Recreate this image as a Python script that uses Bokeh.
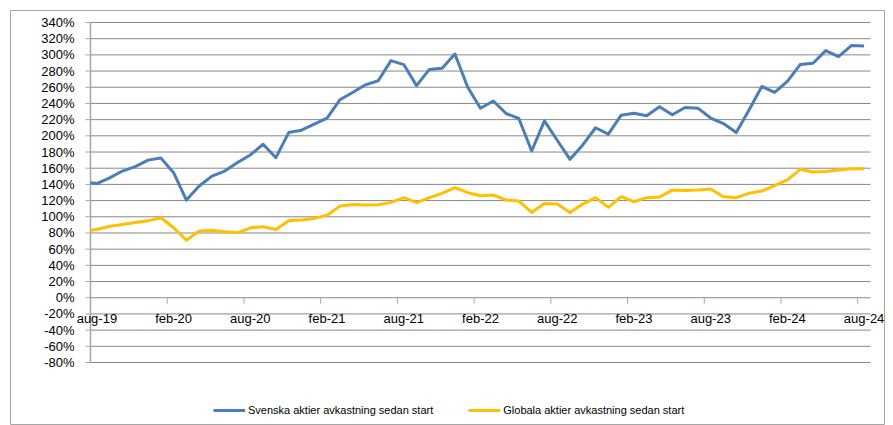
import math
from bokeh.plotting import figure
from bokeh.models import Range1d, Legend, LegendItem
from bokeh.core.properties import value
from bokeh.embed import file_html
from bokeh.resources import INLINE

# ---- data (values in %) ----
month_pos = [0] + [0.5 + k for k in range(61)]  # aug-19 ... aug-24 monthly
svenska = [142, 141, 148, 156.5, 162, 170, 172.6, 154.5, 120.6, 138, 150.3, 156.5,
           167, 176.4, 189.6, 173, 204, 207, 214.4, 221.8, 244.5, 253.6, 263, 268,
           292.9, 288, 262, 282, 283.4, 301, 260, 234, 243, 227.6, 221.4, 181.3,
           218.5, 194.5, 171, 188.8, 210, 202, 225.5, 228, 224.7, 236, 226, 235,
           234.2, 222, 215.2, 204, 232, 261, 253.6, 267.3, 288, 289.6, 305.3, 297.9,
           311.5, 311]
globala = [83.5, 84.3, 88.4, 90.5, 93, 95, 98.8, 86.4, 71, 82.6, 83.5, 81.4,
           80.2, 86.4, 87.6, 84.3, 95, 96, 98, 102, 113.2, 115.3, 114.5, 114.9,
           117.8, 123.6, 117.4, 123.6, 129, 136, 129.8, 126, 126.9, 120.7, 119.4, 105.4,
           116.5, 115.7, 105.4, 115.7, 123.6, 111.6, 124.8, 118.6, 123.6, 124.4, 133, 132.6,
           133, 134.3, 124.8, 123.6, 129, 131.8, 138.4, 145.5, 158.6, 155.3, 156, 157.8,
           159.4, 159.4]
x_tick_labels = ["aug-19", "feb-20", "aug-20", "feb-21", "aug-21", "feb-22",
                 "aug-22", "feb-23", "aug-23", "feb-24", "aug-24"]
y_ticks = list(range(-80, 341, 20))
y_tick_labels = [f"{v}%" for v in y_ticks]
series_names = ["Svenska aktier avkastning sedan start",
                "Globala aktier avkastning sedan start"]

X_START, X_END = 0, 61          # extent of the category axis (months)
Y_MIN, Y_MAX = -80, 340
FONT = "Liberation Sans"
GRID = "#888888"
AXIS = "#a6a6a6"
BORDER = "#a6a6a6"

# The frame is the chart-area box; the plot area sits inside it.
p = figure(width=893, height=425, output_backend="svg", toolbar_location=None,
           x_range=Range1d(-6.256, 62.095), y_range=Range1d(-157.8, 354.8),
           min_border_left=10, min_border_right=9, min_border_top=10,
           min_border_bottom=0, x_axis_type=None, y_axis_type=None)
p.outline_line_color = BORDER
p.outline_line_width = 1

n = len(y_ticks)
# horizontal gridlines (incl. the 0% axis line)
p.segment(x0=[X_START] * n, x1=[X_END] * n, y0=y_ticks, y1=y_ticks,
          line_color=GRID, line_width=1)
# vertical value axis line and its tick marks
p.segment(x0=[X_START], x1=[X_START], y0=[Y_MIN], y1=[Y_MAX],
          line_color=AXIS, line_width=1.5)
p.ray(x=[X_START] * n, y=y_ticks, length=5, length_units="screen", angle=math.pi,
      line_color=AXIS, line_width=1)
p.text(x=[X_START] * n, y=y_ticks, text=y_tick_labels, x_offset=-16,
       text_align="right", text_baseline="middle", text_font=value(FONT),
       text_font_size=value("13px"), text_color="#000000")

# category axis at 0%: tick marks between months, labels centred on months
label_pos = [0.5 + 6 * k for k in range(len(x_tick_labels))]
tick_pos = [6 * k for k in range(len(x_tick_labels))]
p.ray(x=tick_pos, y=[0] * len(tick_pos), length=6, length_units="screen",
      angle=-math.pi / 2, line_color=AXIS, line_width=1)
p.text(x=label_pos, y=[0] * len(label_pos), text=x_tick_labels, y_offset=21,
       text_align="center", text_baseline="middle", text_font=value(FONT),
       text_font_size=value("13px"), text_color="#000000")

r1 = p.line(month_pos, svenska, line_color="#4A7EBB", line_width=3, line_join="round")
r2 = p.line(month_pos, globala, line_color="#FFC000", line_width=3, line_join="round")

legend = Legend(items=[LegendItem(label=series_names[0], renderers=[r1]),
                       LegendItem(label=series_names[1], renderers=[r2])],
                orientation="horizontal", location=(203, 8))
legend.background_fill_alpha = 0
legend.border_line_color = None
legend.padding = 0
legend.margin = 0
legend.glyph_width = 32
legend.glyph_height = 14
legend.label_standoff = 3
legend.spacing = 35
legend.label_text_font = FONT
legend.label_text_font_size = "11px"
legend.label_text_color = "#000000"
p.add_layout(legend, "center")

open("out.html", "w").write(file_html(p, INLINE))
